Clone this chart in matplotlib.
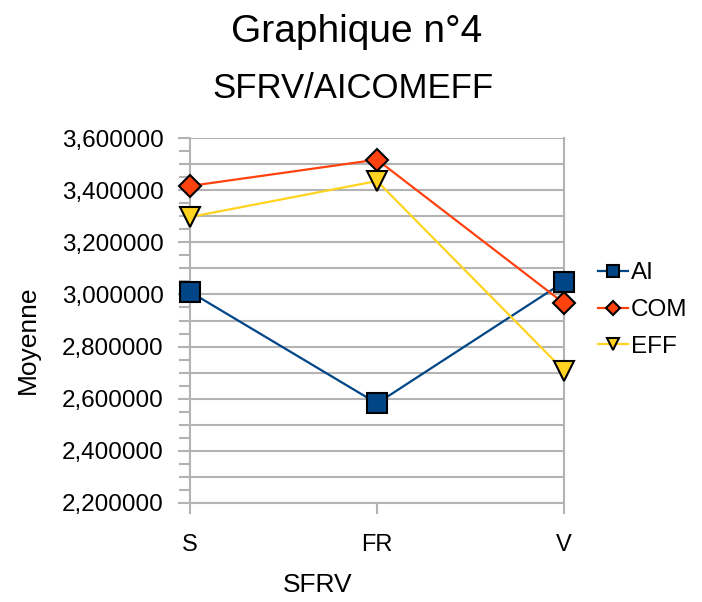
import matplotlib
matplotlib.use("Agg")
import matplotlib.pyplot as plt
from matplotlib.ticker import MultipleLocator, FuncFormatter

plt.rcParams['font.family'] = ['Liberation Sans', 'DejaVu Sans']

categories = ["S", "FR", "V"]
series_names = ["AI", "COM", "EFF"]
ai = [3.010, 2.582, 3.048]
com = [3.416, 3.517, 2.966]
eff = [3.297, 3.435, 2.708]

colors = ["#004586", "#ff420e", "#ffd320"]
markers = ["s", "D", "v"]
sizes = [15, 11, 15]

W, H = 702, 602
fig = plt.figure(figsize=(W/100, H/100), dpi=100)
ax = fig.add_axes([190/W, 1-503/H, (564-190)/W, (503-138)/H])

x = list(range(len(categories)))
for vals, name, c, m, s in zip([ai, com, eff], series_names, colors, markers, sizes):
    ax.plot(x, vals, color=c, lw=1.6, marker=m, markersize=s,
            markerfacecolor=c, markeredgecolor="black", markeredgewidth=1.5,
            label=name, clip_on=False, zorder=3)

ax.set_xlim(0, 2)
ax.set_ylim(2.2, 3.6)
ax.set_xticks(x)
ax.set_xticklabels(categories, fontsize=17)
ax.yaxis.set_major_locator(MultipleLocator(0.2))
ax.yaxis.set_minor_locator(MultipleLocator(0.05))
ax.yaxis.set_major_formatter(FuncFormatter(lambda v, p: f"{v:.6f}".replace(".", ",")))
ax.tick_params(axis='y', which='major', labelsize=17.5, length=9, width=1.5, color="#b3b3b3", pad=10)
ax.tick_params(axis='y', which='minor', length=8, width=1.5, color="#b3b3b3")
ax.tick_params(axis='x', which='major', length=8, width=1.5, color="#b3b3b3", pad=14, direction='out')

# grid every 0.1
for gy in [2.2 + 0.1*i for i in range(15)]:
    ax.axhline(gy, color="#b3b3b3", lw=1.5, zorder=1)

for sp in ax.spines.values():
    sp.set_color("#b3b3b3")
    sp.set_linewidth(1.5)
ax.spines['top'].set_visible(False)

ax.set_xlabel("SFRV", fontsize=19)
ax.set_ylabel("Moyenne", fontsize=19)
ax.xaxis.set_label_coords((318-190)/(564-190), -(585-503)/(503-138), transform=ax.transAxes)
ax.xaxis.label.set_va("center")
ax.yaxis.set_label_coords(-(190-28)/(564-190), (503-340)/(503-138), transform=ax.transAxes)
ax.yaxis.label.set_va("center")

fig.text(357/W, 1-32/H, "Graphique n°4", fontsize=28, ha="center", va="center")
fig.text(353/W, 1-88/H, "SFRV/AICOMEFF", fontsize=25, ha="center", va="center")

leg = fig.legend(loc="center left", bbox_to_anchor=(598/W, 1-310/H), frameon=False,
                 fontsize=17.5, handlelength=1.25, handletextpad=0.1, labelspacing=0.6,
                 markerscale=0.62, borderpad=0, borderaxespad=0)

fig.savefig("out.png", dpi=100)
